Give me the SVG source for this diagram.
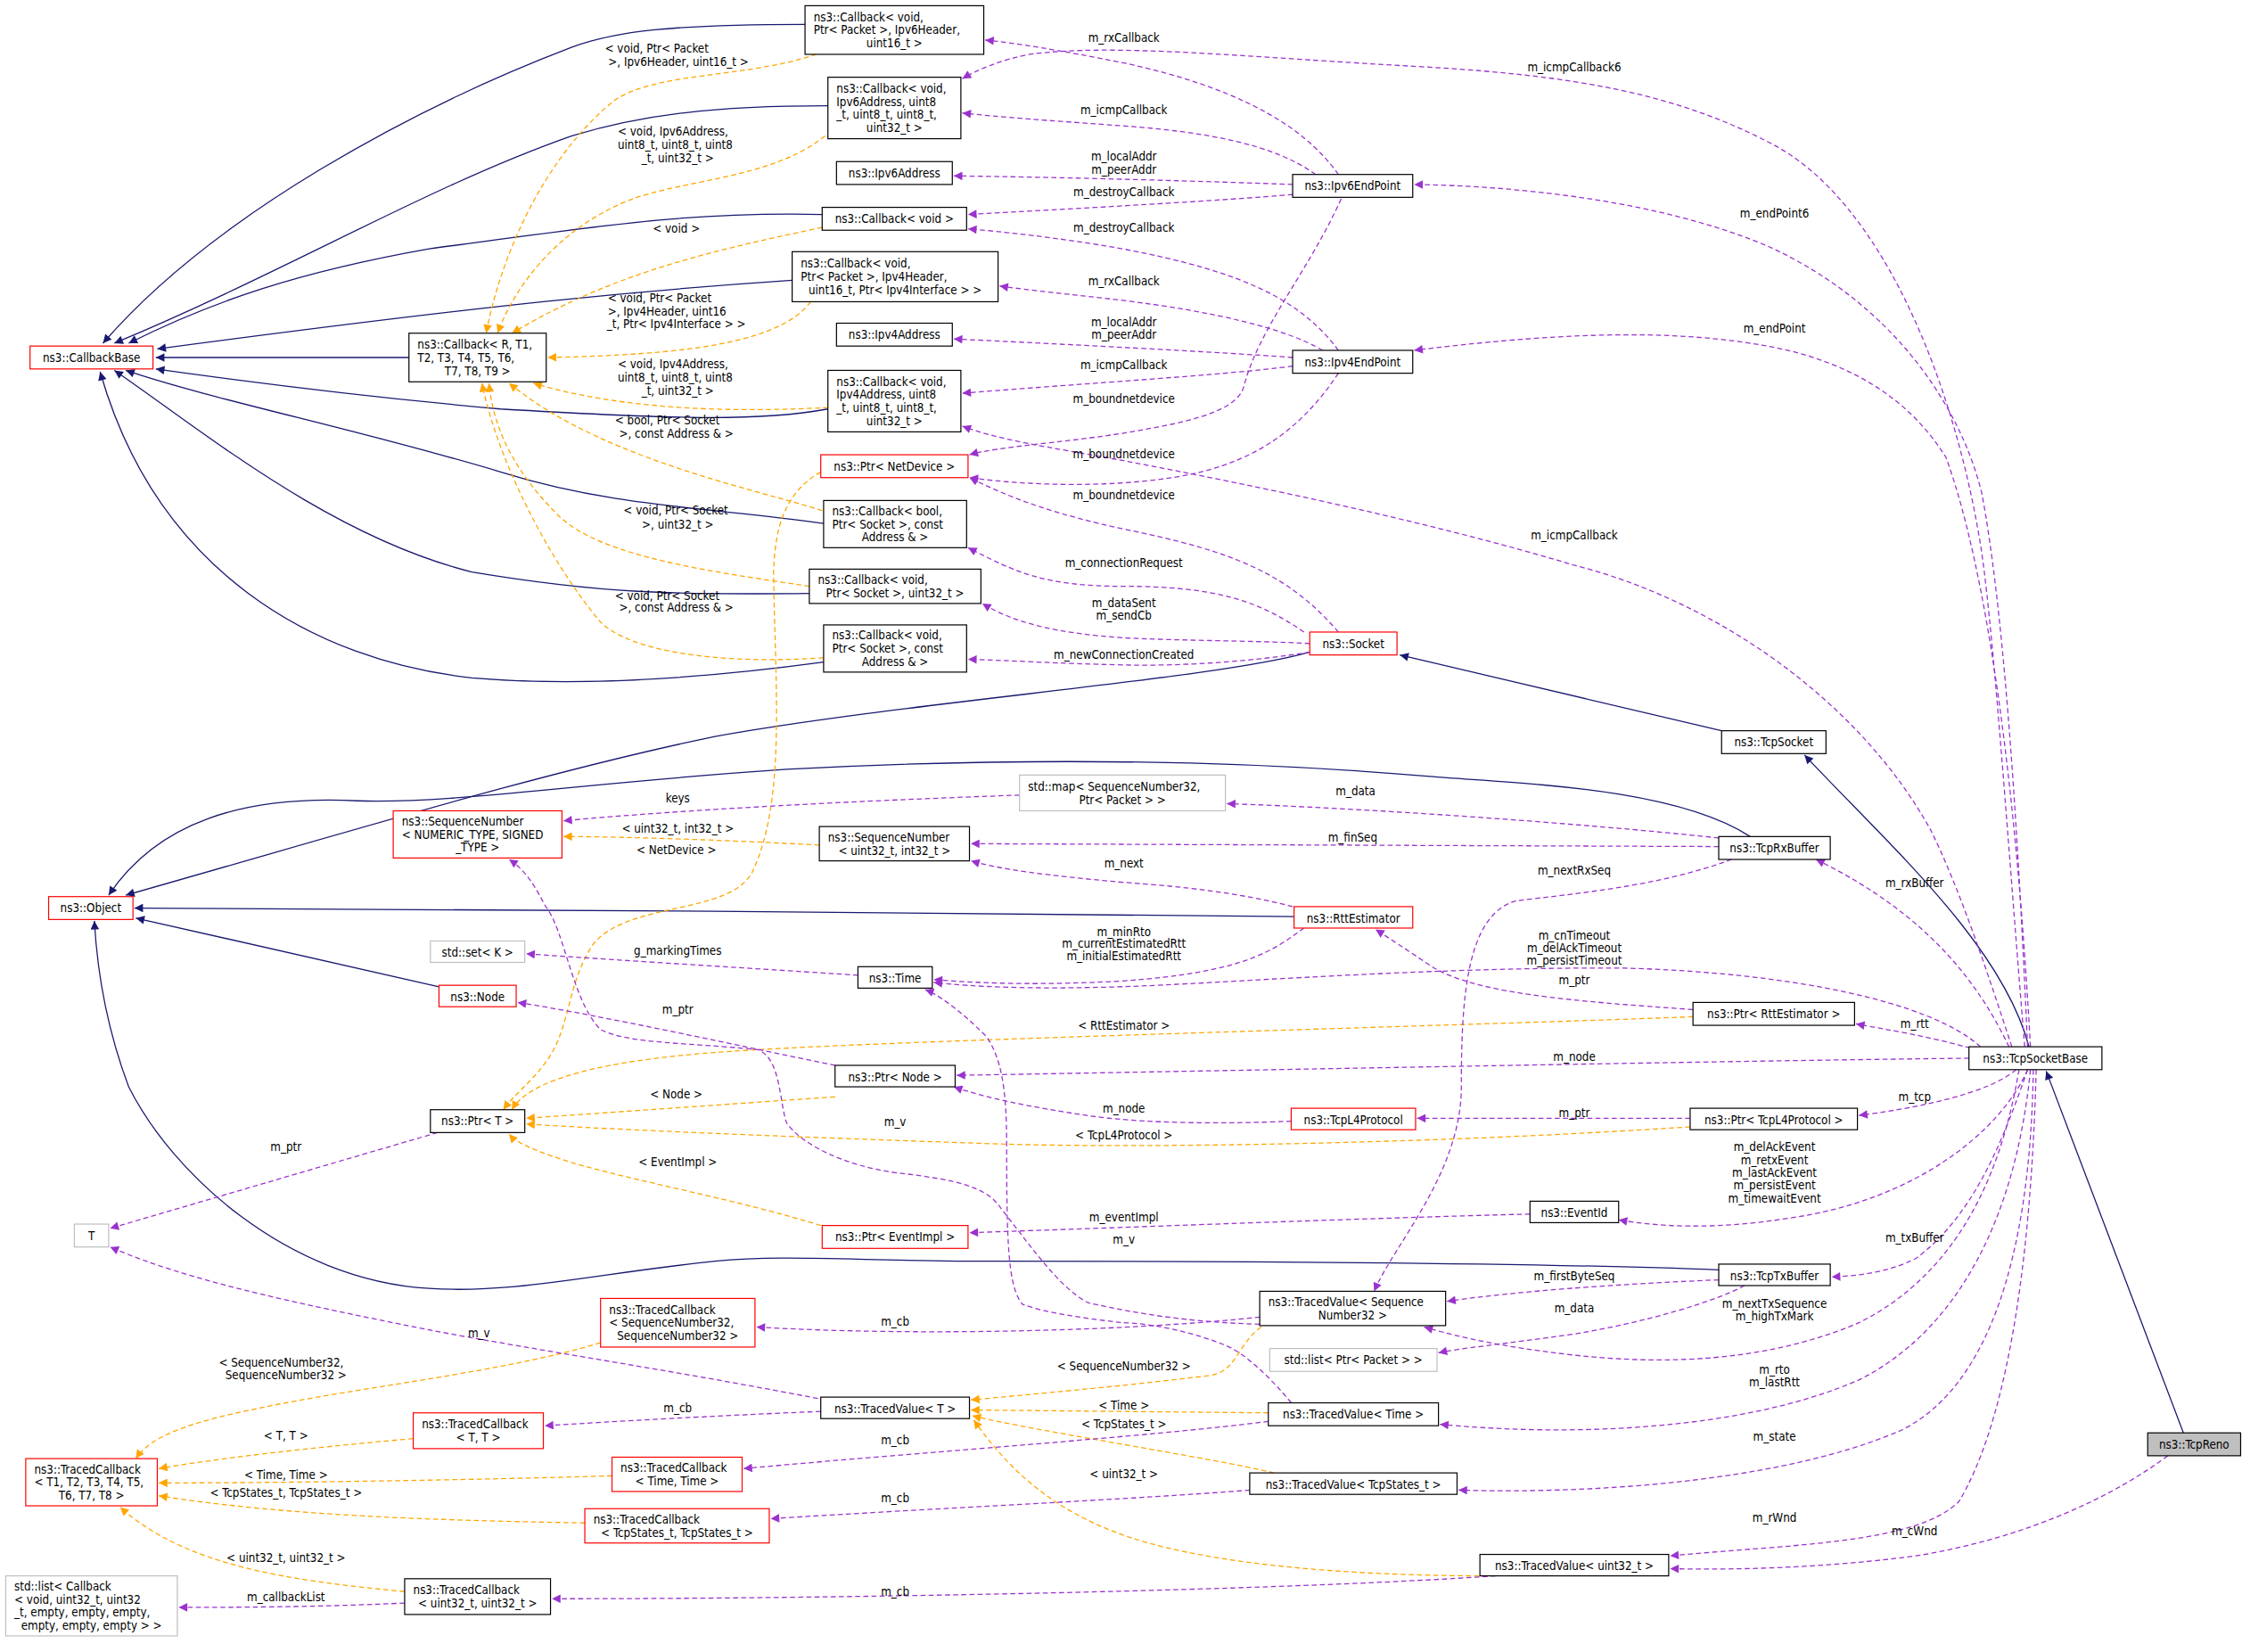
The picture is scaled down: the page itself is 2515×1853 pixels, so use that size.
<svg xmlns="http://www.w3.org/2000/svg" width="2515" height="1853" viewBox="0 0 2515 1853">
<style>
text{font-family:"DejaVu Sans Condensed","DejaVu Sans","Liberation Sans",sans-serif;font-stretch:condensed;font-size:8.3px;fill:#000}
.c{text-anchor:middle}
.n rect{fill:#fff;stroke:#000;stroke-width:0.75}
.r rect{stroke:#f00}
.g rect{stroke:#bfbfbf}
.gr rect{fill:#bfbfbf}
.inh{fill:none;stroke:#191970;stroke-width:0.8;marker-end:url(#mi)}
.tpl{fill:none;stroke:#ffa500;stroke-width:0.8;stroke-dasharray:3.5,2.2;marker-end:url(#mt)}
.use{fill:none;stroke:#9a32cd;stroke-width:0.8;stroke-dasharray:3.5,2.2;marker-end:url(#mu)}
</style>
<defs>
<marker id="mi" viewBox="0 0 10 10" refX="10" refY="5" markerWidth="7" markerHeight="6" markerUnits="userSpaceOnUse" orient="auto"><path d="M0,0L10,5L0,10z" fill="#191970"/></marker>
<marker id="mt" viewBox="0 0 10 10" refX="10" refY="5" markerWidth="7" markerHeight="6" markerUnits="userSpaceOnUse" orient="auto"><path d="M0,0L10,5L0,10z" fill="#ffa500"/></marker>
<marker id="mu" viewBox="0 0 10 10" refX="10" refY="5" markerWidth="7" markerHeight="6" markerUnits="userSpaceOnUse" orient="auto"><path d="M0,0L10,5L0,10z" fill="#9a32cd"/></marker>
</defs>
<rect width="2515" height="1853" fill="#fff"/>
<g transform="scale(1.604)">
<g id="connectors">
<path class="inh" d="M286,250 L109,250"/>
<path class="inh" d="M563,17 C470,17 430,22 400,33 C290,75 150,150 72,240"/>
<path class="inh" d="M579,74 C500,74 450,80 400,95 C300,130 200,190 80,240"/>
<path class="inh" d="M575,150 C480,148 420,158 300,174 C210,190 150,210 90,240"/>
<path class="inh" d="M554,196 C450,203 350,212 110,244"/>
<path class="inh" d="M579,286 C530,295 470,293 350,286 C260,278 180,268 109,258"/>
<path class="inh" d="M576,366 C500,355 430,355 350,330 C250,300 150,280 88,259"/>
<path class="inh" d="M566,415 C470,416 420,415 330,400 C230,375 140,300 80,259"/>
<path class="inh" d="M576,463 C480,476 400,480 330,474 C220,462 110,400 70,260"/>
<path class="inh" d="M916,456 C850,475 640,490 500,515 C380,540 250,580 88,626"/>
<path class="inh" d="M1224,585 C1170,550 1060,548 1000,543 C850,530 700,530 550,538 C400,548 320,562 250,560 C170,556 110,575 76,626"/>
<path class="inh" d="M905,641 C700,640 300,634 94,635"/>
<path class="inh" d="M307,690 L95,642"/>
<path class="inh" d="M1202,888 C1100,884 900,882 700,882 C600,882 550,877 500,882 C420,890 360,905 300,901 C200,895 120,820 90,760 C75,720 68,680 66,644"/>
<path class="inh" d="M1204,511 L979,458"/>
<path class="inh" d="M1419,732 C1400,660 1320,590 1262,528"/>
<path class="inh" d="M1527,1002 L1431,749"/>

<path class="tpl" d="M571,38 C520,55 460,50 430,70 C380,110 350,180 340,233"/>
<path class="tpl" d="M577,95 C540,125 480,125 440,140 C390,160 360,200 348,233"/>
<path class="tpl" d="M575,159 C500,175 430,190 358,233"/>
<path class="tpl" d="M567,211 C545,240 480,248 383,250"/>
<path class="tpl" d="M579,285 C520,288 440,288 373,268"/>
<path class="tpl" d="M575,357 C520,340 420,320 356,268"/>
<path class="tpl" d="M566,410 C500,400 420,390 390,360 C360,330 345,300 342,268"/>
<path class="tpl" d="M576,460 C500,465 440,455 420,435 C390,400 350,330 337,268"/>
<path class="tpl" d="M574,330 C548,345 542,370 541,400 C542,480 550,560 526,610 C510,640 440,630 415,660 C395,690 400,720 380,745 C370,758 360,765 352,776"/>
<path class="tpl" d="M573,591 C520,588 440,585 394,585"/>
<path class="tpl" d="M584,767 L368,782"/>
<path class="tpl" d="M1184,711 C1000,718 600,728 500,736 C420,742 370,755 358,776"/>
<path class="tpl" d="M1182,788 C1000,800 800,803 700,800 C550,795 430,790 368,786"/>
<path class="tpl" d="M574,857 C520,840 440,825 400,813 C375,805 362,800 356,793"/>
<path class="tpl" d="M420,939 C350,960 250,970 180,985 C130,995 105,1005 95,1020"/>
<path class="tpl" d="M289,1006 C220,1012 150,1020 111,1027"/>
<path class="tpl" d="M428,1032 C330,1035 200,1037 111,1037"/>
<path class="tpl" d="M409,1065 C300,1063 200,1060 111,1046"/>
<path class="tpl" d="M283,1113 C200,1105 130,1095 84,1054"/>
<path class="tpl" d="M882,928 C865,940 865,960 845,962 C780,970 720,975 679,979"/>
<path class="tpl" d="M887,988 L679,986"/>
<path class="tpl" d="M891,1030 C850,1020 720,1000 680,990"/>
<path class="tpl" d="M1040,1102 C950,1102 850,1095 790,1075 C730,1055 700,1020 681,993"/>

<path class="use" d="M936,122 C910,85 860,60 786,44 C740,35 710,30 689,28"/>
<path class="use" d="M920,122 C890,100 840,92 785,88 C730,84 700,82 673,79"/>
<path class="use" d="M904,129 C850,127 750,124 667,123"/>
<path class="use" d="M904,136 C860,140 750,146 677,150"/>
<path class="use" d="M938,139 C915,190 880,230 870,270 C865,290 820,297 785,303 C740,310 700,312 678,318"/>
<path class="use" d="M936,245 C910,210 870,190 785,174 C740,166 700,162 677,160"/>
<path class="use" d="M925,245 C900,230 850,218 785,210 C750,206 720,203 699,200"/>
<path class="use" d="M904,250 C850,246 750,241 667,237"/>
<path class="use" d="M904,256 C860,262 760,268 673,275"/>
<path class="use" d="M936,261 C910,300 880,320 840,330 C790,342 720,340 678,334"/>
<path class="use" d="M936,442 C900,400 860,385 786,370 C740,360 710,350 678,334"/>
<path class="use" d="M912,442 C880,420 850,410 786,410 C730,410 710,400 677,383"/>
<path class="use" d="M916,450 C880,448 820,448 786,446 C740,443 710,436 687,422"/>
<path class="use" d="M916,456 C880,462 830,466 786,465 C740,464 710,462 677,461"/>
<path class="use" d="M1416,732 C1405,600 1395,450 1386,387 C1370,280 1320,140 1236,99 C1170,65 1100,53 1000,47 C870,40 780,30 720,38 C700,42 685,48 673,55"/>
<path class="use" d="M1418,732 C1410,550 1400,420 1386,345 C1370,280 1320,210 1236,172 C1160,140 1060,130 989,129"/>
<path class="use" d="M1420,732 C1410,550 1390,400 1361,320 C1330,270 1280,250 1236,242 C1180,232 1110,230 989,245"/>
<path class="use" d="M1407,732 C1390,680 1370,620 1350,580 C1300,490 1200,420 1100,395 C1000,365 880,340 785,322 C730,312 700,308 673,298"/>
<path class="use" d="M1202,586 C1100,575 950,565 858,562"/>
<path class="use" d="M1202,592 L679,590"/>
<path class="use" d="M1211,601 C1160,620 1100,625 1060,630 C1025,640 1022,700 1022,760 C1022,820 975,870 961,903"/>
<path class="use" d="M904,634 C870,625 830,620 785,617 C730,612 700,608 679,602"/>
<path class="use" d="M713,556 C600,560 480,566 394,574"/>
<path class="use" d="M1405,732 C1385,690 1350,640 1270,601"/>
<path class="use" d="M1385,732 C1350,700 1250,680 1136,677 C1000,676 850,688 785,690 C720,692 680,690 653,687"/>
<path class="use" d="M912,649 C890,665 870,680 785,686 C730,689 690,688 653,685"/>
<path class="use" d="M600,682 C540,678 440,672 368,667"/>
<path class="use" d="M1184,706 C1100,700 1030,695 1000,675 C985,665 970,655 962,650"/>
<path class="use" d="M1378,733 C1350,725 1320,720 1298,716"/>
<path class="use" d="M1377,740 C1200,742 900,748 669,752"/>
<path class="use" d="M584,745 C520,732 420,710 362,701"/>
<path class="use" d="M903,784 C860,786 800,786 760,780 C720,774 690,768 667,760"/>
<path class="use" d="M1182,782 L991,782"/>
<path class="use" d="M1410,748 C1390,765 1340,775 1300,780"/>
<path class="use" d="M306,792 L77,859"/>
<path class="use" d="M1418,748 C1400,790 1340,840 1250,852 C1200,860 1160,858 1132,853"/>
<path class="use" d="M1070,849 C950,852 800,858 678,862"/>
<path class="use" d="M1418,748 C1400,800 1380,850 1340,880 C1320,890 1300,892 1281,893"/>
<path class="use" d="M1202,895 C1130,898 1060,903 1012,910"/>
<path class="use" d="M1220,899 C1200,910 1150,925 1100,933 C1050,940 1020,943 1006,946"/>
<path class="use" d="M1412,748 C1400,820 1370,890 1300,925 C1230,955 1150,955 1080,945 C1040,940 1010,932 996,928"/>
<path class="use" d="M1420,748 C1410,850 1370,930 1300,965 C1220,1000 1100,1005 1007,996"/>
<path class="use" d="M1422,748 C1420,880 1390,970 1330,1000 C1250,1035 1120,1045 1020,1042"/>
<path class="use" d="M1424,748 C1420,900 1400,1000 1370,1050 C1340,1080 1250,1080 1168,1088"/>
<path class="use" d="M1516,1018 C1480,1045 1420,1075 1340,1088 C1280,1096 1220,1098 1168,1097"/>
<path class="use" d="M881,921 C800,930 650,935 529,928"/>
<path class="use" d="M574,987 C500,990 430,994 381,997"/>
<path class="use" d="M572,978 C480,960 380,945 300,930 C200,910 130,895 77,872"/>
<path class="use" d="M887,994 C800,1005 650,1015 520,1027"/>
<path class="use" d="M874,1042 C800,1048 650,1055 539,1062"/>
<path class="use" d="M1046,1102 C900,1112 600,1118 386,1118"/>
<path class="use" d="M283,1121 C220,1124 160,1124 125,1124"/>
<path class="use" d="M881,926 C840,925 800,920 761,911 C740,900 720,870 700,845 C690,830 670,825 626,820 C590,815 560,800 550,785 C545,770 546,740 530,734 C480,729 440,730 420,720 C400,700 395,650 381,633 C372,615 365,607 356,601"/>
<path class="use" d="M903,981 C890,965 870,945 855,940 C830,930 800,925 785,925 C760,922 730,918 715,912 C705,900 704,870 704,800 C704,760 700,740 690,725 C670,705 655,695 647,692"/>

<text x="423" y="37">&lt; void, Ptr&lt; Packet</text><text class="c" x="474.5" y="46">&gt;, Ipv6Header, uint16_t &gt;</text>
<text x="432" y="95">&lt; void, Ipv6Address,</text><text x="432" y="104.3">uint8_t, uint8_t, uint8</text><text class="c" x="474" y="113.2">_t, uint32_t &gt;</text>
<text class="c" x="473" y="162.5">&lt; void &gt;</text>
<text x="425" y="211.6">&lt; void, Ptr&lt; Packet</text><text x="425" y="220.5">&gt;, Ipv4Header, uint16</text><text class="c" x="473" y="229.3">_t, Ptr&lt; Ipv4Interface &gt; &gt;</text>
<text x="432" y="257.7">&lt; void, Ipv4Address,</text><text x="432" y="267">uint8_t, uint8_t, uint8</text><text class="c" x="474" y="276.4">_t, uint32_t &gt;</text>
<text x="430" y="297">&lt; bool, Ptr&lt; Socket</text><text class="c" x="473" y="306.3">&gt;, const Address &amp; &gt;</text>
<text x="436" y="360">&lt; void, Ptr&lt; Socket</text><text class="c" x="474" y="369.4">&gt;, uint32_t &gt;</text>
<text x="430" y="419.8">&lt; void, Ptr&lt; Socket</text><text class="c" x="473" y="428">&gt;, const Address &amp; &gt;</text>
<text class="c" x="473" y="597">&lt; NetDevice &gt;</text>
<text class="c" x="474" y="582.5">&lt; uint32_t, int32_t &gt;</text>
<text class="c" x="473" y="768">&lt; Node &gt;</text>
<text class="c" x="786" y="719.8">&lt; RttEstimator &gt;</text>
<text class="c" x="786" y="797">&lt; TcpL4Protocol &gt;</text>
<text class="c" x="474" y="815.4">&lt; EventImpl &gt;</text>
<text x="153" y="955.7">&lt; SequenceNumber32,</text><text class="c" x="200" y="964.5">SequenceNumber32 &gt;</text>
<text class="c" x="200" y="1007">&lt; T, T &gt;</text>
<text class="c" x="200" y="1034.3">&lt; Time, Time &gt;</text>
<text class="c" x="200" y="1046.6">&lt; TcpStates_t, TcpStates_t &gt;</text>
<text class="c" x="200" y="1092.3">&lt; uint32_t, uint32_t &gt;</text>
<text class="c" x="786" y="958.4">&lt; SequenceNumber32 &gt;</text>
<text class="c" x="786" y="985.5">&lt; Time &gt;</text>
<text class="c" x="786" y="998.6">&lt; TcpStates_t &gt;</text>
<text class="c" x="786" y="1033.6">&lt; uint32_t &gt;</text>

<text class="c" x="786" y="29.6">m_rxCallback</text>
<text class="c" x="786" y="80">m_icmpCallback</text>
<text class="c" x="786" y="112.5">m_localAddr</text><text class="c" x="786" y="121.8">m_peerAddr</text>
<text class="c" x="786" y="137.4">m_destroyCallback</text>
<text class="c" x="786" y="161.8">m_destroyCallback</text>
<text class="c" x="786" y="199.3">m_rxCallback</text>
<text class="c" x="786" y="227.9">m_localAddr</text><text class="c" x="786" y="237.2">m_peerAddr</text>
<text class="c" x="786" y="258.2">m_icmpCallback</text>
<text class="c" x="786" y="282">m_boundnetdevice</text>
<text class="c" x="786" y="320.3">m_boundnetdevice</text>
<text class="c" x="786" y="349">m_boundnetdevice</text>
<text class="c" x="786" y="396.8">m_connectionRequest</text>
<text class="c" x="786" y="424.4">m_dataSent</text><text class="c" x="786" y="433.3">m_sendCb</text>
<text class="c" x="786" y="460.9">m_newConnectionCreated</text>
<text class="c" x="1101" y="50">m_icmpCallback6</text>
<text class="c" x="1241" y="152">m_endPoint6</text>
<text class="c" x="1241" y="232.8">m_endPoint</text>
<text class="c" x="1101" y="377">m_icmpCallback</text>
<text class="c" x="474" y="561">keys</text>
<text class="c" x="948" y="556.3">m_data</text>
<text class="c" x="946" y="588.6">m_finSeq</text>
<text class="c" x="786" y="606.4">m_next</text>
<text class="c" x="1101" y="611.3">m_nextRxSeq</text>
<text class="c" x="1339" y="620.4">m_rxBuffer</text>
<text class="c" x="474" y="667.5">g_markingTimes</text>
<text class="c" x="786" y="654.5">m_minRto</text><text class="c" x="786" y="662.6">m_currentEstimatedRtt</text><text class="c" x="786" y="671.2">m_initialEstimatedRtt</text>
<text class="c" x="1101" y="657.4">m_cnTimeout</text><text class="c" x="1101" y="666">m_delAckTimeout</text><text class="c" x="1101" y="674.7">m_persistTimeout</text>
<text class="c" x="1101" y="688">m_ptr</text>
<text class="c" x="474" y="709">m_ptr</text>
<text class="c" x="1339" y="719">m_rtt</text>
<text class="c" x="1101" y="741.7">m_node</text>
<text class="c" x="1339" y="770">m_tcp</text>
<text class="c" x="786" y="778">m_node</text>
<text class="c" x="1101" y="780.9">m_ptr</text>
<text class="c" x="200" y="805">m_ptr</text>
<text class="c" x="626" y="787.5">m_v</text>
<text class="c" x="1241" y="804.8">m_delAckEvent</text><text class="c" x="1241" y="814.1">m_retxEvent</text><text class="c" x="1241" y="822.8">m_lastAckEvent</text><text class="c" x="1241" y="831.9">m_persistEvent</text><text class="c" x="1241" y="840.8">m_timewaitEvent</text>
<text class="c" x="786" y="854.3">m_eventImpl</text>
<text class="c" x="786" y="869.6">m_v</text>
<text class="c" x="1339" y="868.4">m_txBuffer</text>
<text class="c" x="1101" y="895.5">m_firstByteSeq</text>
<text class="c" x="1101" y="917.7">m_data</text>
<text class="c" x="1241" y="914.5">m_nextTxSequence</text><text class="c" x="1241" y="923.1">m_highTxMark</text>
<text class="c" x="626" y="926.8">m_cb</text>
<text class="c" x="335" y="935.4">m_v</text>
<text class="c" x="1241" y="960.8">m_rto</text><text class="c" x="1241" y="969.5">m_lastRtt</text>
<text class="c" x="474" y="987.5">m_cb</text>
<text class="c" x="1241" y="1007.2">m_state</text>
<text class="c" x="626" y="1009.7">m_cb</text>
<text class="c" x="626" y="1050.8">m_cb</text>
<text class="c" x="1241" y="1064">m_rWnd</text>
<text class="c" x="1339" y="1073.7">m_cWnd</text>
<text class="c" x="626" y="1115.7">m_cb</text>
<text class="c" x="200" y="1120">m_callbackList</text>
</g>

<g id="CallbackBase" class="n r"><rect x="21" y="242" width="86" height="16"/><text class="c" x="64" y="253">ns3::CallbackBase</text></g>
<g id="CallbackR" class="n"><rect x="286" y="233" width="96" height="34"/><text x="292" y="243.8">ns3::Callback&lt; R, T1,</text><text x="292" y="253">T2, T3, T4, T5, T6,</text><text class="c" x="334" y="262.2">T7, T8, T9 &gt;</text></g>
<g id="Cb6pkt" class="n"><rect x="563" y="4" width="125" height="34"/><text x="569" y="14.8">ns3::Callback&lt; void,</text><text x="569" y="24">Ptr&lt; Packet &gt;, Ipv6Header,</text><text class="c" x="625.5" y="33.2">uint16_t &gt;</text></g>
<g id="Cb6Addr" class="n"><rect x="579" y="54" width="93" height="43"/><text x="585" y="64.7">ns3::Callback&lt; void,</text><text x="585" y="73.9">Ipv6Address, uint8</text><text x="585" y="83.1">_t, uint8_t, uint8_t,</text><text class="c" x="625.5" y="92.3">uint32_t &gt;</text></g>
<g id="Ipv6Address" class="n"><rect x="585" y="113" width="81" height="16"/><text class="c" x="625.5" y="124">ns3::Ipv6Address</text></g>
<g id="CbVoid" class="n"><rect x="575" y="145" width="101" height="16"/><text class="c" x="625.5" y="156">ns3::Callback&lt; void &gt;</text></g>
<g id="Cb4pkt" class="n"><rect x="554" y="176" width="144" height="35"/><text x="560" y="187.3">ns3::Callback&lt; void,</text><text x="560" y="196.5">Ptr&lt; Packet &gt;, Ipv4Header,</text><text class="c" x="626" y="205.7">uint16_t, Ptr&lt; Ipv4Interface &gt; &gt;</text></g>
<g id="Ipv4Address" class="n"><rect x="585" y="226" width="81" height="16"/><text class="c" x="625.5" y="237">ns3::Ipv4Address</text></g>
<g id="Cb4Addr" class="n"><rect x="579" y="259" width="93" height="43"/><text x="585" y="269.7">ns3::Callback&lt; void,</text><text x="585" y="278.9">Ipv4Address, uint8</text><text x="585" y="288.1">_t, uint8_t, uint8_t,</text><text class="c" x="625.5" y="297.3">uint32_t &gt;</text></g>
<g id="PtrNetDevice" class="n r"><rect x="574" y="318" width="103" height="16"/><text class="c" x="625.5" y="329">ns3::Ptr&lt; NetDevice &gt;</text></g>
<g id="CbBool" class="n"><rect x="576" y="350" width="100" height="33"/><text x="582" y="360.3">ns3::Callback&lt; bool,</text><text x="582" y="369.5">Ptr&lt; Socket &gt;, const</text><text class="c" x="626" y="378.7">Address &amp; &gt;</text></g>
<g id="CbSockU32" class="n"><rect x="566" y="398" width="120" height="24"/><text x="572" y="408.4">ns3::Callback&lt; void,</text><text class="c" x="626" y="417.6">Ptr&lt; Socket &gt;, uint32_t &gt;</text></g>
<g id="CbSockAddr" class="n"><rect x="576" y="437" width="100" height="33"/><text x="582" y="447.3">ns3::Callback&lt; void,</text><text x="582" y="456.5">Ptr&lt; Socket &gt;, const</text><text class="c" x="626" y="465.7">Address &amp; &gt;</text></g>
<g id="StdMap" class="n g"><rect x="713" y="542" width="144" height="25"/><text x="719" y="552.9">std::map&lt; SequenceNumber32,</text><text class="c" x="785" y="562.1">Ptr&lt; Packet &gt; &gt;</text></g>
<g id="SeqNumT" class="n r"><rect x="275" y="567" width="118" height="33"/><text x="281" y="577.3">ns3::SequenceNumber</text><text x="281" y="586.5">&lt; NUMERIC_TYPE, SIGNED</text><text class="c" x="334" y="595.7">_TYPE &gt;</text></g>
<g id="SeqNum32" class="n"><rect x="573" y="578" width="105" height="24"/><text x="579" y="588.4">ns3::SequenceNumber</text><text class="c" x="625.5" y="597.6">&lt; uint32_t, int32_t &gt;</text></g>
<g id="Object" class="n r"><rect x="34" y="627" width="59" height="16"/><text class="c" x="63.5" y="638">ns3::Object</text></g>
<g id="StdSet" class="n g"><rect x="301" y="658" width="66" height="15"/><text class="c" x="334" y="669">std::set&lt; K &gt;</text></g>
<g id="Time" class="n"><rect x="600" y="676" width="52" height="15"/><text class="c" x="626" y="687">ns3::Time</text></g>
<g id="Node" class="n r"><rect x="307" y="689" width="54" height="15"/><text class="c" x="334" y="700">ns3::Node</text></g>
<g id="PtrNode" class="n"><rect x="584" y="745" width="84" height="15"/><text class="c" x="626" y="756">ns3::Ptr&lt; Node &gt;</text></g>
<g id="PtrT" class="n"><rect x="301" y="776" width="66" height="16"/><text class="c" x="334" y="787">ns3::Ptr&lt; T &gt;</text></g>
<g id="T" class="n g"><rect x="52" y="856" width="24" height="16"/><text class="c" x="64" y="867">T</text></g>
<g id="PtrEventImpl" class="n r"><rect x="575" y="857" width="102" height="16"/><text class="c" x="626" y="868">ns3::Ptr&lt; EventImpl &gt;</text></g>
<g id="TCbSeq" class="n r"><rect x="420" y="908" width="108" height="34"/><text x="426" y="918.8">ns3::TracedCallback</text><text x="426" y="928">&lt; SequenceNumber32,</text><text class="c" x="474" y="937.2">SequenceNumber32 &gt;</text></g>
<g id="TVT" class="n"><rect x="574" y="977" width="104" height="15"/><text class="c" x="626" y="988">ns3::TracedValue&lt; T &gt;</text></g>
<g id="TCbTT" class="n r"><rect x="289" y="988" width="91" height="25"/><text x="295" y="998.9">ns3::TracedCallback</text><text class="c" x="334.5" y="1008.1">&lt; T, T &gt;</text></g>
<g id="TCbT1" class="n r"><rect x="18" y="1020" width="92" height="33"/><text x="24" y="1030.3">ns3::TracedCallback</text><text x="24" y="1039.5">&lt; T1, T2, T3, T4, T5,</text><text class="c" x="64" y="1048.7">T6, T7, T8 &gt;</text></g>
<g id="TCbTime" class="n r"><rect x="428" y="1019" width="91" height="24"/><text x="434" y="1029.4">ns3::TracedCallback</text><text class="c" x="473.5" y="1038.6">&lt; Time, Time &gt;</text></g>
<g id="TCbStates" class="n r"><rect x="409" y="1055" width="129" height="24"/><text x="415" y="1065.4">ns3::TracedCallback</text><text class="c" x="473.5" y="1074.6">&lt; TcpStates_t, TcpStates_t &gt;</text></g>
<g id="TCbU32" class="n"><rect x="283" y="1104" width="102" height="25"/><text x="289" y="1114.9">ns3::TracedCallback</text><text class="c" x="334" y="1124.1">&lt; uint32_t, uint32_t &gt;</text></g>
<g id="StdListCb" class="n g"><rect x="4" y="1102" width="120" height="42"/><text x="10" y="1112.2">std::list&lt; Callback</text><text x="10" y="1121.4">&lt; void, uint32_t, uint32</text><text x="10" y="1130.6">_t, empty, empty, empty,</text><text class="c" x="64" y="1139.8">empty, empty, empty &gt; &gt;</text></g>
<g id="Ipv6EndPoint" class="n"><rect x="904" y="122" width="84" height="16"/><text class="c" x="946" y="133">ns3::Ipv6EndPoint</text></g>
<g id="Ipv4EndPoint" class="n"><rect x="904" y="245" width="84" height="16"/><text class="c" x="946" y="256">ns3::Ipv4EndPoint</text></g>
<g id="Socket" class="n r"><rect x="916" y="442" width="61" height="16"/><text class="c" x="946.5" y="453">ns3::Socket</text></g>
<g id="TcpSocket" class="n"><rect x="1204" y="511" width="73" height="16"/><text class="c" x="1240.5" y="522">ns3::TcpSocket</text></g>
<g id="TcpRxBuffer" class="n"><rect x="1202" y="585" width="78" height="16"/><text class="c" x="1241" y="596">ns3::TcpRxBuffer</text></g>
<g id="RttEstimator" class="n r"><rect x="905" y="634" width="83" height="15"/><text class="c" x="946.5" y="645">ns3::RttEstimator</text></g>
<g id="PtrRttEstimator" class="n"><rect x="1184" y="701" width="113" height="16"/><text class="c" x="1240.5" y="712">ns3::Ptr&lt; RttEstimator &gt;</text></g>
<g id="TcpSocketBase" class="n"><rect x="1377" y="732" width="93" height="16"/><text class="c" x="1423.5" y="743">ns3::TcpSocketBase</text></g>
<g id="TcpL4Protocol" class="n r"><rect x="903" y="775" width="87" height="15"/><text class="c" x="946.5" y="786">ns3::TcpL4Protocol</text></g>
<g id="PtrTcpL4Protocol" class="n"><rect x="1182" y="775" width="117" height="15"/><text class="c" x="1240.5" y="786">ns3::Ptr&lt; TcpL4Protocol &gt;</text></g>
<g id="EventId" class="n"><rect x="1070" y="840" width="62" height="15"/><text class="c" x="1101" y="851">ns3::EventId</text></g>
<g id="TcpTxBuffer" class="n"><rect x="1202" y="884" width="78" height="15"/><text class="c" x="1241" y="895">ns3::TcpTxBuffer</text></g>
<g id="TVSeq" class="n"><rect x="881" y="903" width="130" height="24"/><text x="887" y="913.4">ns3::TracedValue&lt; Sequence</text><text class="c" x="946" y="922.6">Number32 &gt;</text></g>
<g id="StdListPacket" class="n g"><rect x="888" y="943" width="117" height="16"/><text class="c" x="946.5" y="954">std::list&lt; Ptr&lt; Packet &gt; &gt;</text></g>
<g id="TVTime" class="n"><rect x="887" y="981" width="119" height="16"/><text class="c" x="946.5" y="992">ns3::TracedValue&lt; Time &gt;</text></g>
<g id="TVStates" class="n"><rect x="874" y="1030" width="145" height="15"/><text class="c" x="946.5" y="1041">ns3::TracedValue&lt; TcpStates_t &gt;</text></g>
<g id="TVU32" class="n"><rect x="1035" y="1087" width="132" height="15"/><text class="c" x="1101" y="1098">ns3::TracedValue&lt; uint32_t &gt;</text></g>
<g id="TcpReno" class="n gr"><rect x="1502" y="1002" width="65" height="16"/><text class="c" x="1534.5" y="1013">ns3::TcpReno</text></g>
</g>
</svg>
